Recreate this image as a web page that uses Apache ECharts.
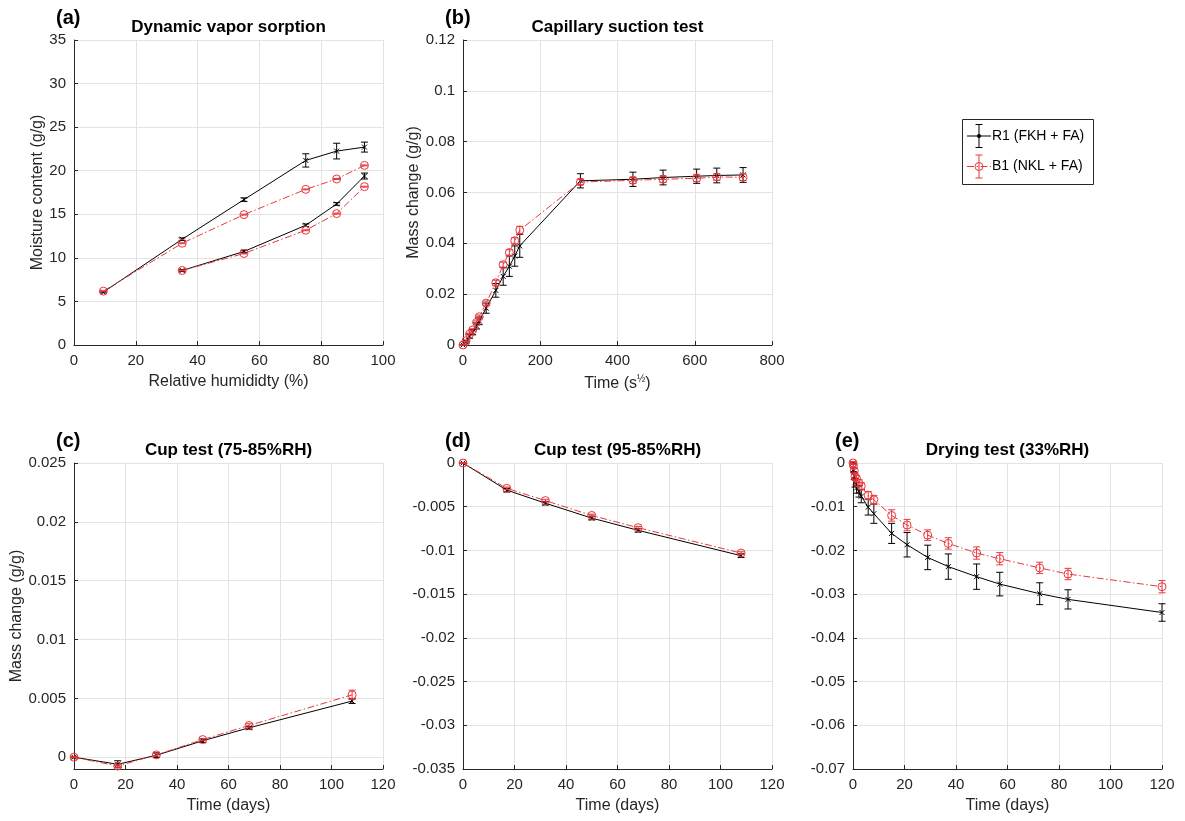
<!DOCTYPE html>
<html>
<head>
<meta charset="utf-8">
<script src="https://cdn.jsdelivr.net/npm/echarts@6/dist/echarts.min.js"></script>
<style>
  html, body { margin: 0; padding: 0; background: #fff; }
  #chart { width: 1185px; height: 821px; }
</style>
</head>
<body>
<div id="chart"></div>
<script>
// ---------- (a) Dynamic vapor sorption ----------
const dvsRhUpper    = [9.5, 35, 55, 75, 85, 94];
const dvsR1Upper    = [6.07, 12.14, 16.68, 21.18, 22.25, 22.71];
const dvsR1UpperErr = [0.08, 0.15, 0.2, 0.76, 0.9, 0.57];
const dvsB1Upper    = [6.18, 11.68, 14.96, 17.86, 19.05, 20.61];
const dvsB1UpperErr = [0.05, 0.05, 0.05, 0.05, 0.05, 0.05];
const dvsRhLower    = [35, 55, 75, 85, 94];
const dvsR1Lower    = [8.55, 10.73, 13.74, 16.18, 19.39];
const dvsR1LowerErr = [0.1, 0.12, 0.15, 0.15, 0.34];
const dvsB1Lower    = [8.55, 10.5, 13.17, 15.08, 18.17];
const dvsB1LowerErr = [0.05, 0.05, 0.05, 0.05, 0.05];

// ---------- (b) Capillary suction test ----------
const capTime  = [0, 8, 17, 25, 35, 42, 60, 85, 104, 120, 134, 147, 304, 440, 518, 605, 657, 725];
const capR1    = [0, 0.0012, 0.0035, 0.005, 0.0075, 0.0095, 0.0145, 0.0215, 0.027, 0.031, 0.035, 0.039,
                  0.0646, 0.0652, 0.0659, 0.0664, 0.0667, 0.0669];
const capR1Err = [0, 0.0004, 0.0008, 0.001, 0.0012, 0.0015, 0.002, 0.0027, 0.0035, 0.004, 0.004, 0.0045,
                  0.0028, 0.0028, 0.0029, 0.0028, 0.0029, 0.0029];
const capB1    = [0, 0.0017, 0.0043, 0.0059, 0.0089, 0.0111, 0.0165, 0.0245, 0.0316, 0.0364, 0.041, 0.0452,
                  0.0641, 0.0648, 0.0652, 0.0656, 0.0661, 0.066];
const capB1Err = [0, 0.0003, 0.0004, 0.0005, 0.0006, 0.0007, 0.0008, 0.001, 0.001, 0.0011, 0.0012, 0.0015,
                  0.001, 0.0012, 0.0012, 0.0013, 0.0013, 0.0013];

// ---------- (c) Cup test 75-85 %RH ----------
const cupLoDays  = [0, 17, 32, 50, 68, 108];
const cupLoR1    = [0, -0.0006, 0.00017, 0.0014, 0.0025, 0.00477];
const cupLoR1Err = [0.00005, 0.0003, 0.0002, 0.00015, 0.00012, 0.0002];
const cupLoB1    = [0, -0.00075, 0.0002, 0.0015, 0.0027, 0.0053];
const cupLoB1Err = [0.00005, 0.0001, 0.0001, 0.0001, 0.00015, 0.0004];

// ---------- (d) Cup test 95-85 %RH ----------
const cupHiDays  = [0, 17, 32, 50, 68, 108];
const cupHiR1    = [0, -0.0031, -0.0046, -0.0063, -0.0077, -0.0106];
const cupHiR1Err = [0.00005, 0.0002, 0.0002, 0.0002, 0.0002, 0.0002];
const cupHiB1    = [0, -0.0029, -0.0043, -0.006, -0.0074, -0.0103];
const cupHiB1Err = [0.00005, 0.00015, 0.00015, 0.00015, 0.00015, 0.00015];

// ---------- (e) Drying test 33 %RH ----------
const dryDays  = [0, 0.2, 0.5, 0.8, 1.4, 2.3, 3.2, 5.9, 8.1, 15, 21, 29, 37, 48, 57, 72.5, 83.5, 120];
const dryR1    = [0, -0.0015, -0.003, -0.0045, -0.0057, -0.0065, -0.0076, -0.0101, -0.0116, -0.0161,
                  -0.0187, -0.0216, -0.0237, -0.026, -0.0277, -0.0299, -0.0312, -0.0342];
const dryR1Err = [0.0002, 0.0005, 0.0008, 0.001, 0.0012, 0.0013, 0.0015, 0.0018, 0.0022, 0.0023,
                  0.0028, 0.0028, 0.0029, 0.0029, 0.0027, 0.0025, 0.0022, 0.002];
const dryB1    = [0, -0.0006, -0.0018, -0.0031, -0.0036, -0.0046, -0.0053, -0.0074, -0.0084, -0.012,
                  -0.0142, -0.0165, -0.0184, -0.0206, -0.0219, -0.024, -0.0254, -0.0283];
const dryB1Err = [0.0003, 0.0004, 0.0005, 0.0006, 0.0007, 0.0008, 0.0008, 0.0009, 0.001, 0.0013,
                  0.0013, 0.0012, 0.0013, 0.0014, 0.0014, 0.0013, 0.0013, 0.0014];

// Tick labels for the cup test (75-85 %RH) axis, whose range starts below zero
const cupLoTicks = [0, 0.005, 0.01, 0.015, 0.02, 0.025];

const seriesNames = ['R1 (FKH + FA)', 'B1 (NKL + FA)'];

// ---------- styling ----------
const FONT = '"Liberation Sans", Arial, Helvetica, sans-serif';
const INK = '#262626';
const BLACK = '#000000';
const RED = '#e8373c';
const GRIDLINE = '#e3e3e3';
const DASHDOT = [7, 2.5, 1.5, 2.5];
const CROSS = 'path://M0,0L10,10M10,0L0,10';

const grids = [
  { left: 74,  top: 40,  width: 309, height: 305 },
  { left: 463, top: 40,  width: 309, height: 305 },
  { left: 74,  top: 463, width: 309, height: 306 },
  { left: 463, top: 463, width: 309, height: 306 },
  { left: 853, top: 463, width: 309, height: 306 }
];

function zip(xs, ys, es) {
  return xs.map((x, i) => es ? [x, ys[i], es[i]] : [x, ys[i]]);
}

function xAxis(gi, min, max, interval, name, nameGap) {
  return {
    type: 'value', gridIndex: gi, min, max, interval,
    name, nameLocation: 'middle', nameGap,
    nameTextStyle: {
      color: INK, fontSize: 16, fontFamily: FONT,
      rich: {
        n: { color: INK, fontSize: 16, fontFamily: FONT },
        s: { color: INK, fontSize: 10, fontFamily: FONT, padding: [0, 0, 9, 0] }
      }
    },
    axisLine: { show: true, onZero: false, lineStyle: { color: INK, width: 1 } },
    axisTick: { show: true, inside: true, length: 4, lineStyle: { color: INK } },
    axisLabel: { color: INK, fontSize: 15, fontFamily: FONT, margin: 8, showMinLabel: true, showMaxLabel: true },
    splitLine: { show: true, lineStyle: { color: GRIDLINE, width: 1 } }
  };
}

function yAxis(gi, min, max, interval, name, nameGap, custom) {
  const ax = {
    type: 'value', gridIndex: gi, min, max,
    name, nameLocation: 'middle', nameGap,
    nameTextStyle: { color: INK, fontSize: 16, fontFamily: FONT },
    axisLine: { show: true, onZero: false, lineStyle: { color: INK, width: 1 } },
    axisTick: { show: true, inside: true, length: 4, lineStyle: { color: INK } },
    axisLabel: { color: INK, fontSize: 15, fontFamily: FONT, margin: 8, showMinLabel: true, showMaxLabel: true },
    splitLine: { show: true, lineStyle: { color: GRIDLINE, width: 1 } }
  };
  if (custom) {
    ax.axisTick.customValues = custom;
    ax.axisLabel.customValues = custom;
  } else {
    ax.interval = interval;
  }
  return ax;
}

function lineSeries(gi, name, xs, ys, red) {
  return {
    type: 'line', name, xAxisIndex: gi, yAxisIndex: gi,
    data: zip(xs, ys),
    animation: false, silent: true, z: red ? 4 : 3,
    symbol: red ? 'circle' : CROSS,
    symbolSize: red ? 8 : 5,
    showSymbol: true, showAllSymbol: true,
    lineStyle: { color: red ? RED : BLACK, width: 1, type: red ? DASHDOT : 'solid' },
    itemStyle: { color: 'rgba(0,0,0,0)', borderColor: red ? RED : BLACK, borderWidth: 1 },
    emphasis: { disabled: true }
  };
}

function errorSeries(gi, name, xs, ys, es, red) {
  const color = red ? RED : BLACK;
  return {
    type: 'custom', name, xAxisIndex: gi, yAxisIndex: gi,
    data: zip(xs, ys, es),
    encode: { x: 0, y: 1 },
    animation: false, silent: true, z: red ? 4 : 3,
    renderItem(params, api) {
      const x = api.value(0), y = api.value(1), e = api.value(2);
      const hi = api.coord([x, y + e]);
      const lo = api.coord([x, y - e]);
      const hw = 3.5;
      const style = { stroke: color, lineWidth: 1, fill: null };
      return {
        type: 'group',
        children: [
          { type: 'line', shape: { x1: hi[0], y1: hi[1], x2: lo[0], y2: lo[1] }, style },
          { type: 'line', shape: { x1: hi[0] - hw, y1: hi[1], x2: hi[0] + hw, y2: hi[1] }, style },
          { type: 'line', shape: { x1: lo[0] - hw, y1: lo[1], x2: lo[0] + hw, y2: lo[1] }, style }
        ]
      };
    }
  };
}

function pair(gi, xs, r1, r1e, b1, b1e) {
  return [
    errorSeries(gi, seriesNames[0], xs, r1, r1e, false),
    lineSeries(gi, seriesNames[0], xs, r1, false),
    errorSeries(gi, seriesNames[1], xs, b1, b1e, true),
    lineSeries(gi, seriesNames[1], xs, b1, true)
  ];
}

// ---------- panel headings ----------
const headings = [
  { tag: '(a)', title: 'Dynamic vapor sorption',  g: 0 },
  { tag: '(b)', title: 'Capillary suction test',  g: 1 },
  { tag: '(c)', title: 'Cup test (75-85%RH)',     g: 2 },
  { tag: '(d)', title: 'Cup test (95-85%RH)',     g: 3 },
  { tag: '(e)', title: 'Drying test (33%RH)',     g: 4 }
];

const graphics = [];
headings.forEach(h => {
  const gr = grids[h.g];
  graphics.push({
    type: 'text', silent: true,
    style: { text: h.tag, x: gr.left - 18, y: gr.top - 22, align: 'left', verticalAlign: 'middle',
             fontSize: 20, fontWeight: 'bold', fontFamily: FONT, fill: BLACK }
  });
  graphics.push({
    type: 'text', silent: true,
    style: { text: h.title, x: gr.left + gr.width / 2, y: gr.top - 13, align: 'center', verticalAlign: 'middle',
             fontSize: 17, fontWeight: 'bold', fontFamily: FONT, fill: BLACK }
  });
});

// ---------- legend box ----------
const LX = 962, LY = 119, LW = 131, LH = 65;
const rows = [LY + 17, LY + 47.5];
graphics.push({
  type: 'rect', silent: true,
  shape: { x: LX + 0.5, y: LY + 0.5, width: LW, height: LH },
  style: { fill: '#fff', stroke: INK, lineWidth: 1 }
});
rows.forEach((ry, i) => {
  const red = i === 1;
  const c = red ? RED : BLACK;
  const cx = LX + 17;
  graphics.push({ type: 'line', silent: true, shape: { x1: LX + 5, y1: ry, x2: LX + 29, y2: ry },
    style: { stroke: c, lineWidth: 1, lineDash: red ? DASHDOT : null } });
  graphics.push({ type: 'line', silent: true, shape: { x1: cx, y1: ry - 11.5, x2: cx, y2: ry + 11.5 },
    style: { stroke: c, lineWidth: 1 } });
  graphics.push({ type: 'line', silent: true, shape: { x1: cx - 3.5, y1: ry - 11.5, x2: cx + 3.5, y2: ry - 11.5 },
    style: { stroke: c, lineWidth: 1 } });
  graphics.push({ type: 'line', silent: true, shape: { x1: cx - 3.5, y1: ry + 11.5, x2: cx + 3.5, y2: ry + 11.5 },
    style: { stroke: c, lineWidth: 1 } });
  if (red) {
    graphics.push({ type: 'circle', silent: true, shape: { cx, cy: ry, r: 4 },
      style: { fill: 'none', stroke: c, lineWidth: 1 } });
  } else {
    graphics.push({ type: 'circle', silent: true, shape: { cx, cy: ry, r: 2 },
      style: { fill: c } });
  }
  graphics.push({
    type: 'text', silent: true,
    style: { text: seriesNames[i], x: LX + 30, y: ry, align: 'left', verticalAlign: 'middle',
             fontSize: 14, fontFamily: FONT, fill: BLACK }
  });
});

const option = {
  backgroundColor: '#ffffff',
  animation: false,
  grid: grids.map(g => Object.assign({ containLabel: false }, g)),
  xAxis: [
    xAxis(0, 0, 100, 20, 'Relative humididty (%)', 29),
    xAxis(1, 0, 800, 200, '{n|Time (s}{s|½}{n|)}', 29),
    xAxis(2, 0, 120, 20, 'Time (days)', 29),
    xAxis(3, 0, 120, 20, 'Time (days)', 29),
    xAxis(4, 0, 120, 20, 'Time (days)', 29)
  ],
  yAxis: [
    yAxis(0, 0, 35, 5, 'Moisture content (g/g)', 28),
    yAxis(1, 0, 0.12, 0.02, 'Mass change (g/g)', 37),
    yAxis(2, -0.001, 0.025, null, 'Mass change (g/g)', 48, cupLoTicks),
    yAxis(3, -0.035, 0, 0.005, '', 0),
    yAxis(4, -0.07, 0, 0.01, '', 0)
  ],
  series: [
    ...pair(0, dvsRhUpper, dvsR1Upper, dvsR1UpperErr, dvsB1Upper, dvsB1UpperErr),
    ...pair(0, dvsRhLower, dvsR1Lower, dvsR1LowerErr, dvsB1Lower, dvsB1LowerErr),
    ...pair(1, capTime, capR1, capR1Err, capB1, capB1Err),
    ...pair(2, cupLoDays, cupLoR1, cupLoR1Err, cupLoB1, cupLoB1Err),
    ...pair(3, cupHiDays, cupHiR1, cupHiR1Err, cupHiB1, cupHiB1Err),
    ...pair(4, dryDays, dryR1, dryR1Err, dryB1, dryB1Err)
  ],
  graphic: graphics
};

const chart = echarts.init(document.getElementById('chart'), null, { renderer: 'canvas' });
chart.setOption(option);
</script>
</body>
</html>
